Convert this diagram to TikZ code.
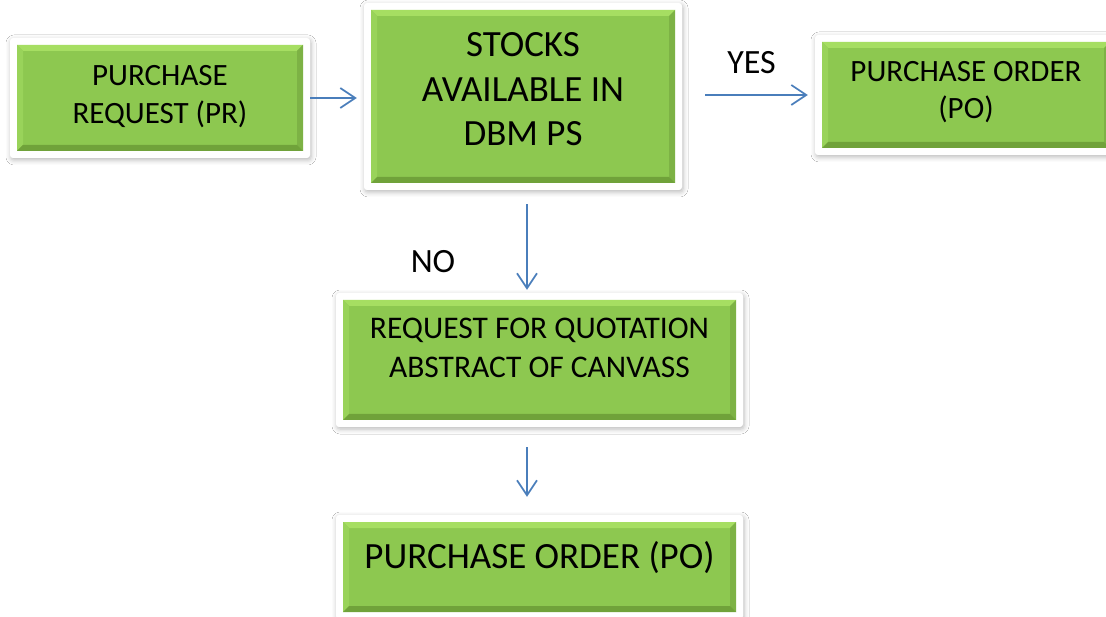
\documentclass[tikz,border=0pt]{standalone}
\usepackage{fontspec}
\setmainfont{Carlito}
\usetikzlibrary{shadows.blur,arrows.meta}
\definecolor{boxgreen}{HTML}{8DC850}
\definecolor{bevtop}{HTML}{A6DE62}
\definecolor{bevleft}{HTML}{99D35A}
\definecolor{bevright}{HTML}{7DB245}
\definecolor{bevbottom}{HTML}{70A23A}
\definecolor{arrowblue}{HTML}{4A7EBB}
\tikzset{
  bevelbox/.style={
    fill=white, rounded corners=3pt, inner sep=0pt, align=center, text=black,
    blur shadow={shadow xshift=1pt, shadow yshift=-2pt, shadow blur radius=5pt, shadow opacity=28},
    path picture={
      \begin{scope}[sharp corners]
      \path ([xshift=7pt,yshift=-7pt]path picture bounding box.north west) coordinate (bnw)
            ([xshift=-7pt,yshift=-7pt]path picture bounding box.north east) coordinate (bne)
            ([xshift=-7pt,yshift=7pt]path picture bounding box.south east) coordinate (bse)
            ([xshift=7pt,yshift=7pt]path picture bounding box.south west) coordinate (bsw);
      \fill[boxgreen] (bnw) rectangle (bse);
      \fill[bevtop] (bnw) -- (bne) -- ([xshift=-6pt,yshift=-6pt]bne) -- ([xshift=6pt,yshift=-6pt]bnw) -- cycle;
      \fill[bevleft] (bnw) -- ([xshift=6pt,yshift=-6pt]bnw) -- ([xshift=6pt,yshift=6pt]bsw) -- (bsw) -- cycle;
      \fill[bevright] (bne) -- ([xshift=-6pt,yshift=-6pt]bne) -- ([xshift=-6pt,yshift=6pt]bse) -- (bse) -- cycle;
      \fill[bevbottom] (bsw) -- ([xshift=6pt,yshift=6pt]bsw) -- ([xshift=-6pt,yshift=6pt]bse) -- (bse) -- cycle;
      \end{scope}
    }
  },
  flow/.style={draw=arrowblue, line width=1.7pt, -{Straight Barb[length=15pt,width=20pt,line width=1.7pt]}},
  answer/.style={text=black, font=\fontsize{34}{40}\selectfont, inner sep=0pt}
}
\begin{document}
\begin{tikzpicture}[x=1pt,y=-1pt]
\useasboundingbox[fill=white] (0,0) rectangle (1106,617);

\node[bevelbox, minimum width=300pt, minimum height=120pt, font=\fontsize{31}{38}\selectfont]
  (pr) at (160,98) {PURCHASE\\REQUEST (PR)\\[-30pt]\mbox{}};
\node[bevelbox, minimum width=318pt, minimum height=187pt, font=\fontsize{37}{44.5}\selectfont]
  (stocks) at (523,96.5) {STOCKS\\AVAILABLE IN\\DBM PS\\[-30pt]\mbox{}};
\node[bevelbox, minimum width=302pt, minimum height=120pt, font=\fontsize{31}{37}\selectfont]
  (po) at (966,95) {PURCHASE ORDER\\(PO)\\[-26pt]\mbox{}};
\node[bevelbox, minimum width=407pt, minimum height=134pt, font=\fontsize{31.5}{39}\selectfont]
  (rfq) at (539.5,360) {REQUEST FOR QUOTATION\\ABSTRACT OF CANVASS\\[-14pt]\mbox{}};
\node[bevelbox, minimum width=407pt, minimum height=104pt, font=\fontsize{37}{44}\selectfont]
  (pofinal) at (539.5,567) {PURCHASE ORDER (PO)\\[-20pt]\mbox{}};

\draw[flow, shorten >=7pt] (pr.east) -- (pr.east -| stocks.west);
\draw[flow, shorten <=23pt, shorten >=7pt] (stocks.east |- po.west) -- (po.west)
  node[answer, midway, yshift=32pt, xshift=3pt] (yes) {YES};
\draw[flow, shorten <=14pt, shorten >=3pt] ([xshift=4pt]stocks.south) -- ([xshift=4pt]stocks.south |- rfq.north)
  node[answer, pos=0.7, xshift=-94pt] (no) {NO};
\draw[flow, shorten <=20pt, shorten >=18pt] ([xshift=-12.5pt]rfq.south) -- ([xshift=-12.5pt]pofinal.north);
\end{tikzpicture}
\end{document}
